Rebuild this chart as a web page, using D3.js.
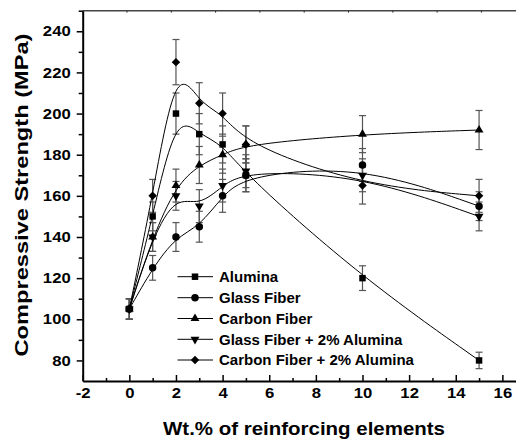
<!DOCTYPE html>
<html>
<head>
<meta charset="utf-8">
<script src="https://cdn.jsdelivr.net/npm/d3@7"></script>
<style>
	html, body { margin: 0; padding: 0; background: #fff; }
	svg { display: block; font-family: "Liberation Sans", Arial, sans-serif; font-weight: bold; }
</style>
</head>
<body>
<svg id="chart" width="516" height="440"></svg>
<script>
// wt.% of reinforcing elements
const xValues = [0, 1, 2, 3, 4, 5, 10, 15];

const seriesNames = [
	'Alumina',
	'Glass Fiber',
	'Carbon Fiber',
	'Glass Fiber + 2% Alumina',
	'Carbon Fiber + 2% Alumina',
];

// compressive strength (MPa)
const alumina = [105, 150, 200, 190, 185, 170, 120, 80];
const glassFiber = [105, 125, 140, 145, 160, 170, 175, 155];
const carbonFiber = [105, 140, 165, 175, 180, 185, 190, 192];
const glassAlumina = [105, 140, 160, 155, 165, 172, 170, 150];
const carbonAlumina = [105, 160, 225, 205, 200, 185, 165, 160];

// error bars (+/-)
const aluminaErr = [5, 7, 10, 10, 9, 8, 6, 4];
const glassFiberErr = [5, 6, 7, 7.5, 8, 8, 8, 7];
const carbonFiberErr = [5, 7, 8, 9, 9, 9, 9, 9.5];
const glassAluminaErr = [5, 7, 7, 8, 8, 8, 8, 7];
const carbonAluminaErr = [5, 8, 11, 10, 10, 9, 9, 8];

const xTicks = [-2, 0, 2, 4, 6, 8, 10, 12, 14, 16];
const yTicks = [80, 100, 120, 140, 160, 180, 200, 220, 240];

function onLoad () {
	const svg = d3.select('#chart');

	const x = d3.scaleLinear().domain([-2, 17]).range([82.7, 525.7]);
	const y = d3.scaleLinear().domain([70, 250]).range([381, 10.7]);

	const series = [
		{ name: seriesNames[0], values: alumina, err: aluminaErr, symbol: d3.symbolSquare, size: 42, rot: 0 },
		{ name: seriesNames[1], values: glassFiber, err: glassFiberErr, symbol: d3.symbolCircle, size: 44, rot: 0 },
		{ name: seriesNames[2], values: carbonFiber, err: carbonFiberErr, symbol: d3.symbolTriangle, size: 34, rot: 0 },
		{ name: seriesNames[3], values: glassAlumina, err: glassAluminaErr, symbol: d3.symbolTriangle, size: 34, rot: 180 },
		{ name: seriesNames[4], values: carbonAlumina, err: carbonAluminaErr, symbol: d3.symbolSquare, size: 36, rot: 45 },
	];

	// top frame line with its small ticks
	const top = svg.append('g');
	top.append('line')
		.attr('x1', x(-2)).attr('x2', x(17))
		.attr('y1', y(250)).attr('y2', y(250))
		.attr('stroke', '#444').attr('stroke-width', 1.5);
	top.selectAll('line.tick')
		.data(d3.range(0, 11).map(i => -2 + i * 1.9))
		.join('line')
		.attr('class', 'tick')
		.attr('x1', d => x(d)).attr('x2', d => x(d))
		.attr('y1', y(250)).attr('y2', y(250) + 2)
		.attr('stroke', '#333').attr('stroke-width', 1);

	// axes
	const xMinor = d3.axisBottom(x).tickValues(d3.range(-1, 17, 2)).tickSizeInner(-3).tickSizeOuter(0).tickFormat('');
	svg.append('g').attr('transform', `translate(0,${y(70)})`).call(xMinor)
		.call(g => g.select('.domain').remove())
		.selectAll('line').attr('stroke-width', 1.5);

	const gx = svg.append('g').attr('transform', `translate(0,${y(70)})`)
		.call(d3.axisBottom(x).tickValues(xTicks).tickSizeInner(-6).tickSizeOuter(0).tickPadding(7).tickFormat(d => String(d)));
	gx.select('.domain').attr('stroke-width', 2);
	gx.selectAll('line').attr('stroke-width', 1.5);

	const yMinor = d3.axisLeft(y).tickValues(d3.range(90, 251, 20)).tickSizeInner(4).tickSizeOuter(0).tickFormat('');
	svg.append('g').attr('transform', `translate(${x(-2)},0)`).call(yMinor)
		.call(g => g.select('.domain').remove())
		.selectAll('line').attr('stroke-width', 1.5);

	const gy = svg.append('g').attr('transform', `translate(${x(-2)},0)`)
		.call(d3.axisLeft(y).tickValues(yTicks).tickSizeInner(6).tickSizeOuter(0).tickPadding(6).tickFormat(d => String(d)));
	gy.select('.domain').attr('stroke-width', 2);
	gy.selectAll('line').attr('stroke-width', 1.5);

	svg.selectAll('.tick text')
		.attr('font-family', '"Liberation Sans", Arial, sans-serif')
		.attr('font-weight', 'bold')
		.attr('font-size', 14.5)
		.attr('fill', '#000')
		.each(function () {
			const len = this.getComputedTextLength();
			d3.select(this).attr('textLength', len * 1.15).attr('lengthAdjust', 'spacingAndGlyphs');
		});

	// error bars
	series.forEach(s => {
		const g = svg.append('g').attr('class', 'err');
		const pts = xValues.map((xv, i) => ({ x: xv, v: s.values[i], e: s.err[i] }));
		g.selectAll('line.v').data(pts).join('line')
			.attr('x1', d => x(d.x)).attr('x2', d => x(d.x))
			.attr('y1', d => y(d.v + d.e)).attr('y2', d => y(d.v - d.e))
			.attr('stroke', '#555').attr('stroke-width', 1.2);
		['+', '-'].forEach(sign => {
			g.selectAll(`line.c${sign === '+' ? 'p' : 'm'}`).data(pts).join('line')
				.attr('x1', d => x(d.x) - 3.5).attr('x2', d => x(d.x) + 3.5)
				.attr('y1', d => y(sign === '+' ? d.v + d.e : d.v - d.e))
				.attr('y2', d => y(sign === '+' ? d.v + d.e : d.v - d.e))
				.attr('stroke', '#555').attr('stroke-width', 1.2);
		});
	});

	// smoothed lines (B-spline like the original)
	const line = d3.line()
		.x(d => x(d[0]))
		.y(d => y(d[1]))
		.curve(d3.curveBasis);

	series.forEach(s => {
		svg.append('path')
			.attr('d', line(xValues.map((xv, i) => [xv, s.values[i]])))
			.attr('fill', 'none')
			.attr('stroke', '#000')
			.attr('stroke-width', 1);
	});

	// markers
	series.forEach(s => {
		svg.append('g').selectAll('path')
			.data(xValues.map((xv, i) => [xv, s.values[i]]))
			.join('path')
			.attr('d', d3.symbol(s.symbol, s.size))
			.attr('transform', d => `translate(${x(d[0])},${y(d[1])})rotate(${s.rot})`)
			.attr('fill', '#000');
	});

	// legend
	const legend = svg.append('g');
	const rowY = [276.7, 297.7, 318.5, 339.3, 360];
	series.forEach((s, i) => {
		const row = legend.append('g').attr('transform', `translate(0,${rowY[i]})`);
		row.append('line')
			.attr('x1', 177.5).attr('x2', 213)
			.attr('stroke', '#000').attr('stroke-width', 1);
		row.append('path')
			.attr('d', d3.symbol(s.symbol, s.size))
			.attr('transform', `translate(195,0)rotate(${s.rot})`)
			.attr('fill', '#000');
		row.append('text')
			.attr('x', 219).attr('y', 5.4)
			.attr('font-size', 15)
			.text(s.name);
	});

	// axis titles
	svg.append('text')
		.attr('transform', 'translate(28,195)rotate(-90)')
		.attr('text-anchor', 'middle')
		.attr('font-size', 18)
		.attr('textLength', 323)
		.attr('lengthAdjust', 'spacingAndGlyphs')
		.text('Compressive Strength (MPa)');

	svg.append('text')
		.attr('x', 304).attr('y', 435)
		.attr('text-anchor', 'middle')
		.attr('font-size', 19)
		.attr('textLength', 282)
		.attr('lengthAdjust', 'spacingAndGlyphs')
		.text('Wt.% of reinforcing elements');
}

if (document.readyState === 'loading') {
	document.addEventListener('DOMContentLoaded', onLoad);
} else {
	onLoad();
}
</script>
</body>
</html>
